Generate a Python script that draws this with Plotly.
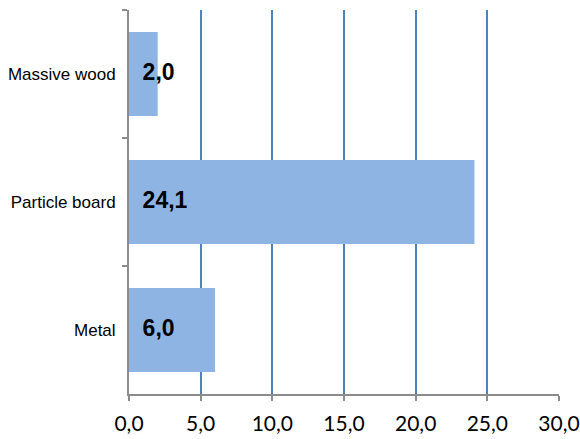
import plotly.graph_objects as go

categories = ["Massive wood", "Particle board", "Metal"]
values = [2.0, 24.1, 6.0]
x_ticks = [0, 5, 10, 15, 20, 25, 30]

bar_color = "#8eb4e3"
grid_color = "#4f81bd"
axis_color = "#8c8c8c"

fig = go.Figure()
fig.add_trace(go.Bar(
    x=values, y=categories, orientation="h",
    marker=dict(color=bar_color, line=dict(width=0)),
    hoverinfo="skip",
))
fig.add_trace(go.Scatter(
    x=[0.95] * len(values), y=categories, mode="text",
    text=[f"{v:.1f}".replace(".", ",") for v in values],
    textposition="middle right",
    textfont=dict(family="Liberation Sans, Arial", size=23, color="black", weight="bold"),
    hoverinfo="skip", showlegend=False,
))

fig.update_layout(
    width=580, height=439,
    margin=dict(l=129, r=21, t=10, b=45, autoexpand=False),
    paper_bgcolor="white", plot_bgcolor="white",
    showlegend=False, bargap=0.344,
    separators=",.",
)
fig.update_xaxes(
    range=[0, 30], tickvals=x_ticks, tickformat=".1f",
    showgrid=True, gridcolor=grid_color, gridwidth=2,
    showline=True, linecolor=axis_color, linewidth=2,
    ticks="outside", ticklen=5, tickcolor=axis_color, tickwidth=2,
    tickfont=dict(family="Lato, Carlito, Calibri", size=21, color="black"),
    ticklabelstandoff=5,
    zeroline=False, automargin=False,
)
fig.update_yaxes(
    categoryorder="array", categoryarray=categories, autorange="reversed",
    showgrid=False, showline=True, linecolor=axis_color, linewidth=2,
    ticks="outside", ticklen=5, tickcolor=axis_color, tickwidth=2,
    tickson="boundaries",
    tickfont=dict(family="Liberation Sans, Arial", size=17, color="black"),
    ticklabelstandoff=8, automargin=False,
)
fig.write_html("out.html", post_script="document.body.style.margin='0';",
               config={"displayModeBar": False})
